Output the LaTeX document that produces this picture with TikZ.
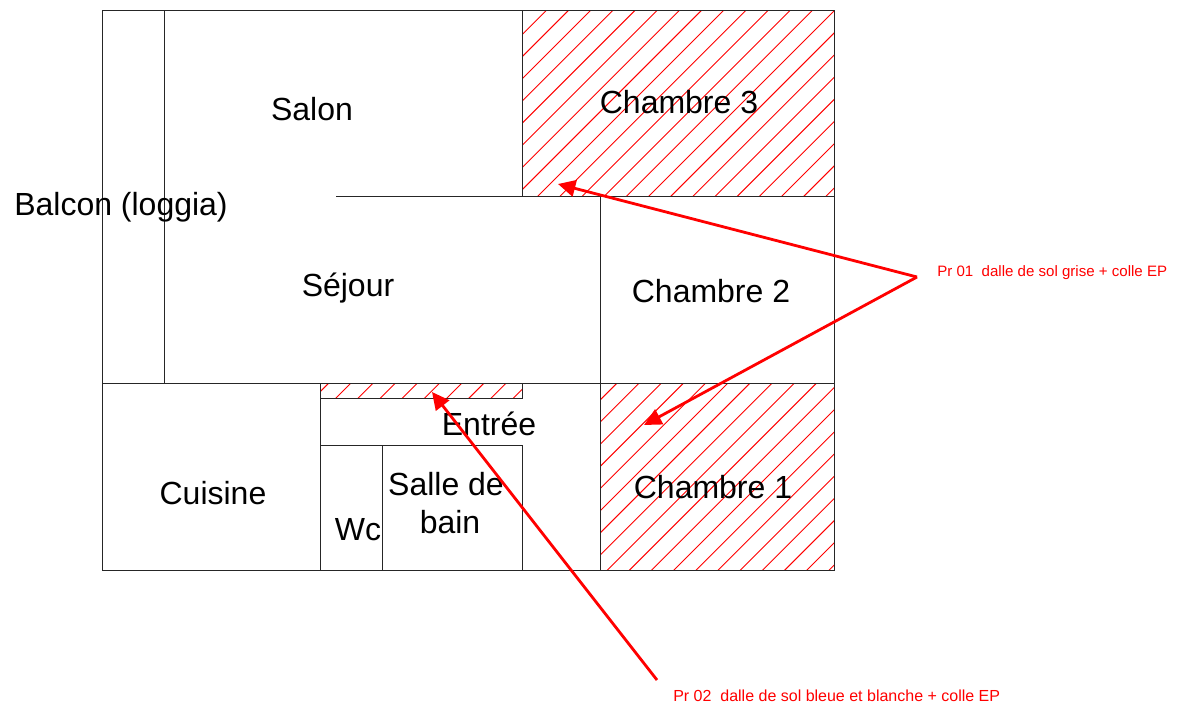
\documentclass[tikz,border=0pt]{standalone}
\usepackage{fontspec}
\setmainfont{Liberation Sans}
\usetikzlibrary{arrows.meta}

\tikzset{
	wall/.style={black!85, line width=0.65pt},
	hatchline/.style={red, line width=0.7pt},
	pointer/.style={red, line width=2.1pt, -{Triangle[length=13pt, width=12.5pt]}},
	room/.style={anchor=base, inner sep=0pt, text=black, font=\fontsize{24}{24}\selectfont},
	note/.style={anchor=base west, inner sep=0pt, text=red, font=\fontsize{11.3}{12}\selectfont},
	longnote/.style={note, font=\fontsize{12}{12}\selectfont}
}
\newcommand{\hatchroom}[4]{
	\begin{scope}
		\clip (#1,#2) rectangle (#3,#4);
		\foreach \k in {0,...,38} {
			\pgfmathsetmacro{\s}{556.7+22.17*\k}
			\draw[hatchline] (\s,0) -- ({\s-704},704);
		}
	\end{scope}
}

\begin{document}
\begin{tikzpicture}[x=0.75pt,y=-0.75pt]
	\useasboundingbox (0,0) rectangle (1181,704);

	% Hatched floors
	\hatchroom{522}{10}{834}{196}
	\hatchroom{600}{383}{834}{570}
	\hatchroom{320}{383}{522}{398}

	% Walls
	\draw[wall] (102,10) rectangle (834,570);
	\draw[wall] (164,10) -- (164,383);
	\draw[wall] (522,10) -- (522,196);
	\draw[wall] (336,196) -- (834,196);
	\draw[wall] (102,383) -- (834,383);
	\draw[wall] (600,196) -- (600,570);
	\draw[wall] (320,383) -- (320,570);
	\draw[wall] (320,383) rectangle (522,398);
	\draw[wall] (320,445) rectangle (522,570);
	\draw[wall] (382,445) -- (382,570);

	% Rooms
	\node[room] (salon) at (312,120) {Salon};
	\node[room] (chambre3) at (679,113) {Chambre 3};
	\node[room] (balcon) at (121,215) {Balcon (loggia)};
	\node[room] (sejour) at (348,296) {Séjour};
	\node[room] (chambre2) at (711,302) {Chambre 2};
	\node[room] (entree) at (489,435) {Entrée};
	\node[room] (cuisine) at (213,504) {Cuisine};
	\node[room] (salle) at (446,495) {Salle de};
	\node[room] (bain) at (450,533) {bain};
	\node[room] (wc) at (358,540) {Wc};
	\node[room] (chambre1) at (713,498) {Chambre 1};

	% Notes
	\node[note] (pr01) at (937,276) {Pr 01\ \ dalle de sol grise + colle EP};
	\node[longnote] (pr02) at (673,701.5) {Pr 02\ \ dalle de sol bleue et blanche + colle EP};

	% Pointers
	\coordinate (from01) at (917,277);
	\coordinate (from02) at (657,680);
	\coordinate (to3) at (558,184);
	\coordinate (to1) at (644,425);
	\coordinate (toentree) at (432,392);
	\draw[pointer] (from01) -- (to3);
	\draw[pointer] (from01) -- (to1);
	\draw[pointer] (from02) -- (toentree);
\end{tikzpicture}
\end{document}
